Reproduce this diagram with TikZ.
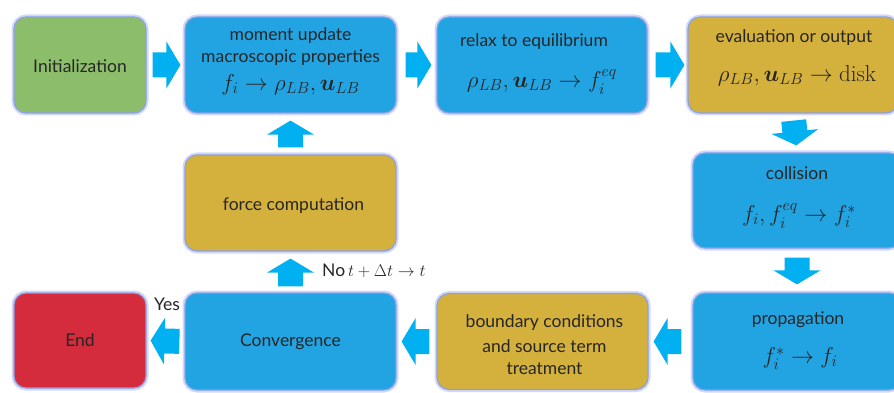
\RequirePackage{fix-cm}
\documentclass[tikz,border=0pt]{standalone}
\usepackage{amsmath,bm}
\usepackage{fontspec}
\setmainfont{Lato}
\newfontfamily\cmrm{Latin Modern Roman}
\usetikzlibrary{calc}
\definecolor{boxblue}{RGB}{34,164,226}
\definecolor{arrblue}{RGB}{0,176,240}
\definecolor{boxgreen}{RGB}{140,189,107}
\definecolor{boxgold}{RGB}{212,176,60}
\definecolor{boxred}{RGB}{212,43,61}
\definecolor{glowc}{RGB}{140,160,232}
\newcommand{\txt}{\fontsize{17.5}{21}\selectfont}
\newcommand{\mth}{\fontsize{23}{27}\selectfont}
% block arrow from (#1) toward (#2), gaps #3 (tail) and #4 (tip)
\newcommand{\barrow}[4]{%
  \path ($(#1)!#3!(#2)$) coordinate (tA) ($(#2)!#4!(#1)$) coordinate (tB)
        ($(tB)!14pt!(tA)$) coordinate (tH);
  \fill[arrblue] ($(tA)!12.5pt!90:(tB)$) -- ($(tH)!12.5pt!-90:(tA)$)
     -- ($(tH)!23.5pt!-90:(tA)$) -- (tB) -- ($(tH)!23.5pt!90:(tA)$)
     -- ($(tH)!12.5pt!90:(tA)$) -- ($(tA)!12.5pt!-90:(tB)$) -- cycle;}
\begin{document}
\begin{tikzpicture}[x=1pt,y=-1pt,
  box/.style={rounded corners=12pt, draw=glowc, line width=1.2pt,
    preaction={draw=glowc!40, line width=5pt},
    minimum width=211pt, minimum height=96pt, inner sep=0pt},
  lbl/.style={font=\txt, text=black!85, inner sep=0pt, anchor=base},
  mlbl/.style={font=\mth, text=black!85, inner sep=0pt, anchor=base}]
\useasboundingbox (0,0) rectangle (894,393);
\clip (0,0) rectangle (894,393);
% boxes
\node[box, fill=boxgreen, minimum width=132pt] (init) at (80,65) {};
\node[box, fill=boxblue] (moment) at (290.5,65) {};
\node[box, fill=boxblue, minimum width=210pt] (relax) at (542,65) {};
\node[box, fill=boxgold, minimum width=210pt] (evalout) at (793,65) {};
\node[box, fill=boxblue, minimum width=208pt, minimum height=95pt] (collision) at (797,200.5) {};
\node[box, fill=boxblue, minimum width=208pt, minimum height=97pt] (propagation) at (797,341.5) {};
\node[box, fill=boxgold] (boundary) at (542.5,341.5) {};
\node[box, fill=boxblue, minimum height=97pt] (convergence) at (290.5,341.5) {};
\node[box, fill=boxred, minimum width=132pt, minimum height=95pt] (endn) at (80,340.5) {};
\node[box, fill=boxgold] (force) at (290.5,203) {};
% texts
\node[lbl] (init-t) at ($(init.north)+(0,56)$) {Initialization};
\node[lbl] (moment-t1) at ($(moment.north)+(0,24)$) {moment update};
\node[lbl] (moment-t2) at ($(moment.north)+(0,46)$) {macroscopic properties};
\node[mlbl] (moment-m) at ($(moment.north)+(0,74)$) {$f_i\rightarrow\rho_{LB},\boldsymbol{u}_{LB}$};
\node[lbl] (relax-t) at ($(relax.north)+(-8,30)$) {relax to equilibrium};
\node[mlbl] (relax-m) at ($(relax.north)+(0,71)$) {$\rho_{LB},\boldsymbol{u}_{LB}\rightarrow f_i^{eq}$};
\node[lbl] (evalout-t) at ($(evalout.north)+(1,26)$) {evaluation or output};
\node[mlbl] (evalout-m) at ($(evalout.north)+(4,65)$) {$\rho_{LB},\boldsymbol{u}_{LB}\rightarrow \text{\cmrm disk}$};
\node[lbl] (collision-t) at ($(collision.north)+(0,27)$) {collision};
\node[mlbl] (collision-m) at ($(collision.north)+(2,69)$) {$f_i,f_i^{eq}\rightarrow f_i^{*}$};
\node[lbl] (propagation-t) at ($(propagation.north)+(1,32)$) {propagation};
\node[mlbl] (propagation-m) at ($(propagation.north)+(3,71)$) {$f_i^{*}\rightarrow f_i$};
\node[lbl] (boundary-t1) at ($(boundary.north)+(2,35)$) {boundary conditions};
\node[lbl] (boundary-t2) at ($(boundary.north)+(2,60)$) {and source term};
\node[lbl] (boundary-t3) at ($(boundary.north)+(2,82)$) {treatment};
\node[lbl] (convergence-t) at ($(convergence.north)+(0,54)$) {Convergence};
\node[lbl] (endn-t) at ($(endn.north)+(0,54)$) {End};
\node[lbl] (force-t) at ($(force.north)+(3,56)$) {force computation};
% arrows
\barrow{init.east}{moment.west}{6pt}{4pt}
\barrow{moment.east}{relax.west}{9pt}{5pt}
\barrow{relax.east}{evalout.west}{8pt}{3pt}
\barrow{evalout.south}{collision.north}{7pt}{7pt}
\barrow{collision.south}{propagation.north}{9pt}{8pt}
\barrow{propagation.west}{boundary.east}{11pt}{5pt}
\barrow{boundary.west}{convergence.east}{7pt}{5pt}
\barrow{convergence.west}{endn.east}{5pt}{4pt}
\barrow{convergence.north}{force.south}{6pt}{7pt}
\barrow{force.north}{moment.south}{7pt}{7pt}
% branch labels
\node[lbl, anchor=base west] (nolabel) at (322,276) {No\,{\fontsize{17}{20}\selectfont$t+\Delta t\rightarrow t$}};
\node[lbl] (yeslabel) at (167,310) {Yes};
\end{tikzpicture}
\end{document}
